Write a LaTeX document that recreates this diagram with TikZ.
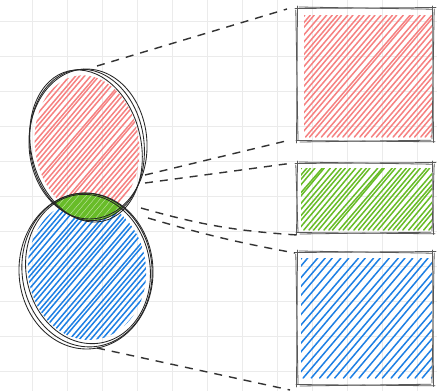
\documentclass[tikz,border=0pt]{standalone}
\definecolor{hred}{RGB}{246,130,130}
\definecolor{hgreen}{RGB}{104,188,40}
\definecolor{hblue}{RGB}{30,128,228}
\pgfmathsetseed{7}
\newcommand{\hatch}[6]{%
 \pgfmathsetmacro\hH{#6-#4}%
 \pgfmathsetmacro\hW{0.85*\hH}%
 \pgfmathsetmacro\hA{#3-\hW}%
 \pgfmathsetmacro\hB{\hA+#2}%
 \foreach \k in {\hA,\hB,...,#5} \draw[#1] ({\k+0.8*rand},#6) -- ++({\hW+1.2*rand},-\hH);}
\newcommand{\roughrect}[4]{%
 \draw[rr] ({#1-2},{#2+0.5}) -- ({#3+3},{#2-0.5});
 \draw[rr] ({#1+2},{#2-1}) -- ({#3-1},{#2+1.2});
 \draw[rr] ({#1-1},{#4-0.5}) -- ({#3+2},{#4+0.8});
 \draw[rr] ({#1+3},{#4+1}) -- ({#3-2},{#4-0.8});
 \draw[rr] ({#1+0.5},{#2-2}) -- ({#1-0.5},{#4+2});
 \draw[rr] ({#1-1.2},{#2+2}) -- ({#1+1},{#4-1});
 \draw[rr] ({#3-0.5},{#2-2}) -- ({#3+0.5},{#4+1.5});
 \draw[rr] ({#3+1.2},{#2+1}) -- ({#3-1},{#4-2});}
\begin{document}
\begin{tikzpicture}[x=1pt,y=-1pt,
  sk/.style={draw=black!85, line width=0.85pt, line cap=round, line join=round},
  rr/.style={draw=black!65, line width=0.8pt, line cap=round},
  conn/.style={draw=black!80, line width=1.4pt, dash pattern=on 8pt off 7pt},
  gridline/.style={draw=black!8, line width=0.8pt},
  hr/.style={draw=hred, line width=1.5pt, line cap=round},
  hg/.style={draw=hgreen, line width=1.5pt, line cap=round},
  hb/.style={draw=hblue, line width=1.5pt, line cap=round}]
\useasboundingbox (0,0) rectangle (437,391);
\fill[white] (0,0) rectangle (437,391);
% grid
\foreach \x in {32,67,...,417} \draw[gridline] (\x,0) -- (\x,391);
\foreach \y in {21,56,...,371} \draw[gridline] (0,\y) -- (437,\y);
% hatch of ellipses
\begin{scope}
 \clip[rotate around={8:(87,145)}] (87,145) ellipse[x radius=52, y radius=70];
 \hatch{hr}{5}{30}{70}{145}{222}
\end{scope}
\begin{scope}
 \clip[rotate around={6:(87,270)}] (87,270) ellipse[x radius=59, y radius=70];
 \hatch{hb}{5.5}{20}{190}{155}{350}
\end{scope}
% lens
\begin{scope}
 \clip[rotate around={8:(87,145)}] (87,145) ellipse[x radius=57, y radius=76];
 \clip[rotate around={6:(87,270)}] (87,270) ellipse[x radius=65, y radius=77];
 \fill[hgreen] (40,185) rectangle (140,230);
 \hatch{draw=white!60!hgreen, line width=0.4pt}{6}{40}{185}{140}{230}
\end{scope}
% ellipse outlines
\draw[sk, rotate around={8:(87,145)}] (87,145) ellipse[x radius=57, y radius=76];
\draw[sk, rotate around={3:(88,144)}] (88,144) ellipse[x radius=59, y radius=75];
\draw[sk, rotate around={13:(86,146)}] (86,146) ellipse[x radius=55, y radius=77];
\draw[sk, rotate around={6:(87,270)}] (87,270) ellipse[x radius=65, y radius=77];
\draw[sk, rotate around={2:(86,271)}] (86,271) ellipse[x radius=67, y radius=78];
\draw[sk, rotate around={10:(88,269)}] (88,269) ellipse[x radius=62, y radius=75];
% rectangles
\begin{scope}
 \clip (304,15) rectangle (432,137);
 \hatch{hr}{5.5}{304}{15}{432}{137}
\end{scope}
\begin{scope}
 \clip (301,168) rectangle (432,230);
 \hatch{hg}{5}{301}{168}{432}{230}
\end{scope}
\begin{scope}
 \clip (301,258) rectangle (432,378);
 \hatch{hb}{8}{301}{258}{432}{378}
\end{scope}
\roughrect{297}{8}{433}{141}
\roughrect{297}{163}{433}{233}
\roughrect{297}{252}{433}{385}
% connectors
\coordinate (c1a) at (97,66);   \coordinate (c1b) at (287,9);
\coordinate (c2a) at (145,175); \coordinate (c2b) at (290,140);
\coordinate (c3a) at (145,183); \coordinate (c3b) at (293,163);
\coordinate (c4a) at (141,208); \coordinate (c4b) at (297,235);
\coordinate (c5a) at (148,218); \coordinate (c5b) at (295,253);
\coordinate (c6a) at (97,348);  \coordinate (c6b) at (290,390);
\draw[conn] (c1a) -- (c1b);
\draw[conn] (c2a) -- (c2b);
\draw[conn] (c3a) -- (c3b);
\draw[conn] (c4a) to[bend right=6] (c4b);
\draw[conn] (c5a) to[bend right=3] (c5b);
\draw[conn] (c6a) -- (c6b);
\end{tikzpicture}
\end{document}
